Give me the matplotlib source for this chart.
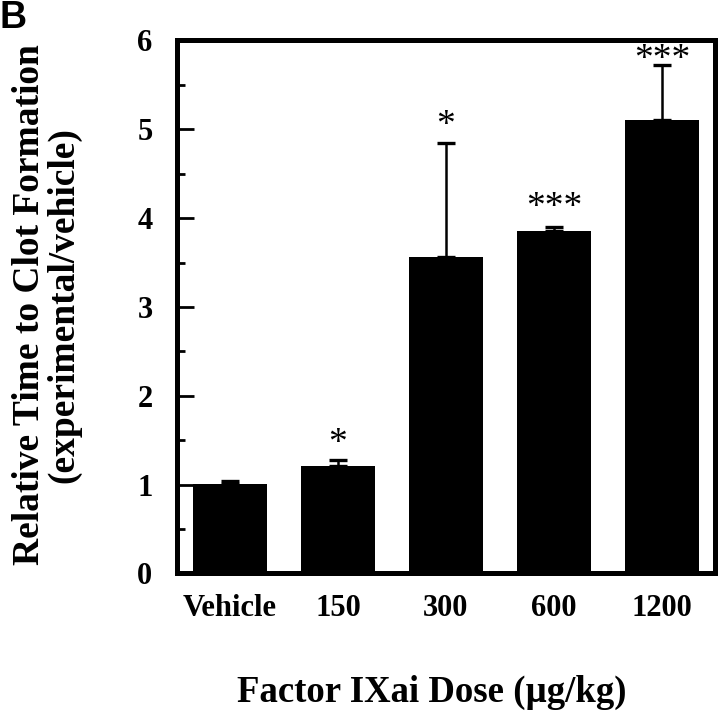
import matplotlib.pyplot as plt
from matplotlib.ticker import MultipleLocator

groups = ['Vehicle', '150', '300', '600', '1200']
means = [1.01, 1.21, 3.56, 3.85, 5.10]
errors = [0.03, 0.07, 1.29, 0.05, 0.62]
stars = ['', '*', '*', '***', '***']
star_gap = [0, 0.23, 0.23, 0.26, 0.11]

plt.rcParams['font.family'] = 'Liberation Serif'
plt.rcParams['font.weight'] = 'bold'

fig = plt.figure(figsize=(7.2, 7.19), dpi=100)
ax = fig.add_axes([0.2465, 0.2024, 0.993 - 0.2465, 0.9437 - 0.2024])

xs = list(range(len(groups)))
ax.bar(xs, means, width=0.69, color='black', zorder=2)
ax.errorbar(xs, means, yerr=[[0] * len(means), errors], fmt='none',
            ecolor='black', elinewidth=1.8, capsize=6.5, capthick=2.4, zorder=1)

# significance marks, centred a little above each cap
for x, m, e, s, g in zip(xs, means, errors, stars, star_gap):
    if s:
        ax.text(x, m + e + g, s, ha='center', va='center_baseline',
                fontsize=27, fontweight='normal')

ax.set_xlim(-0.485, 4.49)
ax.set_ylim(0, 6)
ax.set_xticks(xs)
ax.set_xticklabels(groups, fontsize=22, fontweight='bold')
ax.yaxis.set_major_locator(MultipleLocator(1))
ax.yaxis.set_minor_locator(MultipleLocator(0.5))
ax.tick_params(axis='y', which='major', direction='in', length=12, width=2,
               labelsize=22, pad=18)
ax.tick_params(axis='y', which='minor', direction='in', length=6, width=2)
ax.tick_params(axis='x', length=0, pad=15)
for lbl in ax.get_yticklabels():
    lbl.set_fontweight('bold')
for sp in ax.spines.values():
    sp.set_linewidth(3.6)

ax.set_ylabel('Relative Time to Clot Formation\n(experimental/vehicle)',
              fontsize=27, fontweight='bold', linespacing=1.0)
ax.yaxis.set_label_coords(-0.178, 0.504)
ax.set_xlabel('Factor IXai Dose (µg/kg)', fontsize=26.5, fontweight='bold')
ax.xaxis.set_label_coords(0.4726, -0.19)

fig.text(0.0, 1.0, 'B', fontsize=27, fontweight='bold',
         family='Liberation Sans', ha='left', va='top')

fig.savefig('out.png', dpi=100)
